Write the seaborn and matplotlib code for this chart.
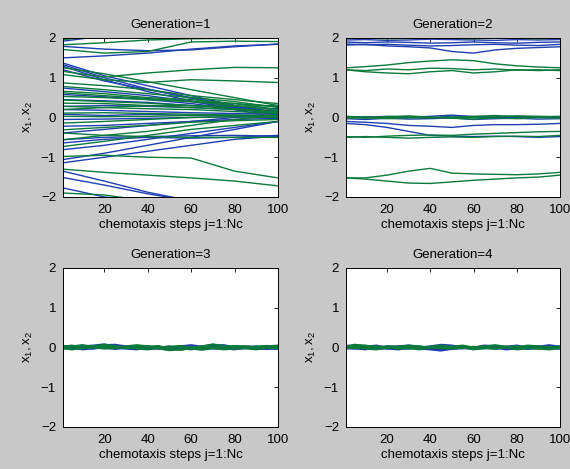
import pandas as pd
import matplotlib
matplotlib.use("Agg")
import matplotlib.pyplot as plt
import seaborn as sns

# ---- data ----
steps_g1 = [1, 20, 40, 60, 80, 100]
steps_g2 = [1, 10, 20, 30, 40, 50, 60, 70, 80, 90, 100]
steps_g34 = [1, 5, 10, 15, 20, 25, 30, 35, 40, 45, 50, 55, 60, 65, 70, 75, 80, 85, 90, 95, 100]

gen1_x1 = [
    [1.92, 2.05, 2.10, 2.10, 2.10, 2.10],
    [1.79, 1.72, 1.68, 1.70, 1.78, 1.85],
    [1.50, 1.55, 1.62, 1.72, 1.80, 1.84],
    [1.37, 1.05, 0.80, 0.55, 0.30, 0.10],
    [1.33, 1.00, 0.72, 0.48, 0.25, 0.05],
    [1.29, 0.95, 0.65, 0.42, 0.20, 0.00],
    [1.20, 0.92, 0.70, 0.50, 0.30, 0.12],
    [0.74, 0.65, 0.55, 0.40, 0.25, 0.15],
    [0.58, 0.52, 0.45, 0.35, 0.22, 0.10],
    [0.45, 0.42, 0.38, 0.30, 0.25, 0.22],
    [0.28, 0.30, 0.28, 0.25, 0.20, 0.15],
    [0.20, 0.18, 0.15, 0.12, 0.10, 0.08],
    [0.08, 0.05, 0.08, 0.05, 0.06, 0.04],
    [-0.05, -0.04, -0.02, 0.00, 0.02, 0.03],
    [-0.22, -0.20, -0.15, -0.10, -0.05, -0.02],
    [-0.39, -0.30, -0.20, -0.10, 0.00, 0.05],
    [-0.56, -0.50, -0.48, -0.46, -0.45, -0.47],
    [-0.64, -0.55, -0.50, -0.52, -0.50, -0.45],
    [-0.81, -0.70, -0.55, -0.40, -0.25, -0.10],
    [-1.06, -0.90, -0.70, -0.50, -0.30, -0.10],
    [-1.14, -1.00, -0.85, -0.70, -0.55, -0.47],
    [-1.35, -1.60, -1.88, -2.10, -2.10, -2.10],
    [-1.51, -1.70, -1.92, -2.10, -2.10, -2.10],
    [-1.77, -2.00, -2.10, -2.10, -2.10, -2.10],
]
gen1_x2 = [
    [1.96, 2.05, 2.10, 2.10, 2.10, 2.10],
    [1.83, 1.88, 1.95, 1.98, 1.99, 2.00],
    [1.71, 1.62, 1.66, 1.90, 1.92, 1.91],
    [1.25, 1.10, 0.90, 0.70, 0.50, 0.30],
    [1.16, 1.02, 1.12, 1.20, 1.26, 1.25],
    [1.08, 0.95, 0.88, 0.95, 0.92, 0.88],
    [0.87, 0.80, 0.70, 0.55, 0.45, 0.35],
    [0.78, 0.70, 0.60, 0.50, 0.40, 0.25],
    [0.66, 0.60, 0.50, 0.45, 0.35, 0.20],
    [0.62, 0.55, 0.48, 0.40, 0.30, 0.18],
    [0.53, 0.50, 0.45, 0.40, 0.35, 0.28],
    [0.44, 0.40, 0.36, 0.30, 0.22, 0.15],
    [0.36, 0.35, 0.30, 0.25, 0.20, 0.12],
    [0.28, 0.25, 0.22, 0.20, 0.15, 0.10],
    [0.20, 0.25, 0.30, 0.30, 0.28, 0.30],
    [0.11, 0.12, 0.10, 0.08, 0.06, 0.05],
    [0.03, 0.02, 0.03, 0.05, 0.05, 0.02],
    [-0.14, -0.10, -0.05, 0.00, 0.02, 0.00],
    [-0.31, -0.25, -0.20, -0.12, -0.08, -0.05],
    [-0.39, -0.45, -0.48, -0.50, -0.50, -0.50],
    [-0.56, -0.45, -0.35, -0.20, -0.05, 0.05],
    [-0.73, -0.60, -0.45, -0.30, -0.20, -0.10],
    [-0.98, -0.95, -1.00, -1.02, -1.35, -1.52],
    [-1.30, -1.38, -1.45, -1.52, -1.60, -1.72],
    [-1.90, -1.95, -2.10, -2.10, -2.10, -2.10],
]

gen2_x1 = [
    [1.95, 1.96, 1.94, 1.95, 1.97, 1.96, 1.95, 1.94, 1.96, 1.95, 1.96],
    [1.90, 1.88, 1.90, 1.89, 1.87, 1.88, 1.90, 1.88, 1.87, 1.89, 1.90],
    [1.85, 1.83, 1.84, 1.82, 1.80, 1.81, 1.83, 1.84, 1.82, 1.81, 1.84],
    [1.82, 1.84, 1.80, 1.78, 1.75, 1.66, 1.62, 1.70, 1.74, 1.76, 1.78],
    [0.02, 0.00, 0.03, 0.01, -0.02, 0.04, 0.02, 0.00, 0.03, 0.01, 0.02],
    [-0.03, -0.05, -0.02, -0.04, -0.03, -0.01, -0.05, -0.03, -0.02, -0.04, -0.03],
    [0.00, 0.02, -0.01, 0.00, 0.03, 0.06, 0.02, -0.01, 0.00, 0.02, 0.00],
    [-0.10, -0.12, -0.15, -0.20, -0.22, -0.25, -0.20, -0.18, -0.18, -0.17, -0.15],
    [-0.15, -0.18, -0.25, -0.35, -0.45, -0.47, -0.48, -0.47, -0.48, -0.50, -0.48],
]
gen2_x2 = [
    [1.99, 2.00, 1.98, 1.99, 2.00, 1.99, 1.98, 2.00, 1.99, 1.98, 2.00],
    [1.25, 1.28, 1.32, 1.38, 1.42, 1.45, 1.43, 1.35, 1.30, 1.27, 1.25],
    [1.20, 1.18, 1.22, 1.20, 1.24, 1.23, 1.20, 1.22, 1.19, 1.20, 1.18],
    [1.20, 1.15, 1.12, 1.10, 1.15, 1.18, 1.12, 1.15, 1.20, 1.18, 1.20],
    [0.03, 0.01, 0.02, 0.04, 0.01, 0.00, 0.03, 0.05, 0.02, 0.01, 0.03],
    [-0.02, 0.00, -0.03, -0.01, 0.00, -0.02, -0.04, -0.01, -0.03, 0.00, -0.02],
    [0.01, -0.02, 0.00, 0.02, -0.01, 0.01, 0.00, 0.02, 0.04, 0.03, 0.02],
    [-0.48, -0.50, -0.47, -0.45, -0.44, -0.45, -0.42, -0.40, -0.38, -0.36, -0.35],
    [-0.50, -0.48, -0.50, -0.52, -0.50, -0.49, -0.50, -0.48, -0.47, -0.48, -0.45],
    [-1.52, -1.52, -1.45, -1.35, -1.28, -1.40, -1.42, -1.43, -1.44, -1.42, -1.38],
    [-1.52, -1.55, -1.60, -1.65, -1.66, -1.62, -1.58, -1.55, -1.52, -1.50, -1.45],
]

gen3_x1 = [
    [0.03, 0.01, 0.05, 0.00, 0.06, 0.07, 0.03, 0.01, -0.02, 0.00, 0.03, -0.03, 0.01, 0.00, 0.05, 0.06, 0.01, 0.00, -0.02, 0.01, 0.00],
    [-0.03, 0.00, -0.05, -0.02, 0.03, 0.00, -0.03, -0.05, 0.00, -0.03, -0.06, -0.02, -0.05, 0.00, -0.03, -0.02, -0.05, 0.00, -0.03, -0.02, -0.04],
    [0.00, -0.02, 0.03, 0.05, 0.08, 0.03, 0.00, 0.02, 0.03, -0.02, 0.00, 0.03, 0.06, 0.02, 0.07, 0.03, 0.00, 0.03, 0.02, -0.02, 0.02],
    [-0.01, -0.04, -0.02, -0.03, 0.00, -0.04, -0.01, -0.03, -0.04, -0.02, -0.03, -0.05, -0.02, -0.04, -0.01, -0.03, -0.04, -0.02, -0.03, -0.04, -0.02],
]
gen3_x2 = [
    [0.02, 0.05, 0.00, 0.03, 0.07, 0.04, 0.00, 0.03, 0.02, 0.04, -0.03, -0.06, -0.02, 0.03, 0.08, 0.04, 0.02, 0.00, 0.03, 0.04, 0.02],
    [-0.02, -0.05, -0.02, 0.00, -0.03, -0.02, 0.02, -0.03, -0.05, -0.02, -0.07, -0.05, -0.03, -0.06, -0.02, -0.05, -0.03, -0.02, -0.05, 0.00, -0.03],
    [0.04, 0.03, 0.06, 0.02, 0.04, 0.00, 0.03, 0.06, 0.03, 0.00, 0.02, 0.04, 0.00, 0.03, 0.02, 0.00, 0.04, 0.03, 0.00, 0.03, 0.05],
    [0.00, 0.02, -0.02, 0.01, -0.01, 0.02, -0.02, 0.00, 0.01, -0.02, 0.00, 0.02, -0.03, -0.01, 0.01, -0.02, 0.01, -0.01, 0.02, -0.01, 0.00],
]

gen4_x1 = [
    [0.02, 0.05, 0.00, -0.02, 0.03, 0.02, 0.00, -0.03, -0.05, -0.08, -0.03, 0.02, 0.00, 0.03, 0.02, -0.02, 0.00, 0.03, 0.02, 0.06, 0.02],
    [-0.03, -0.02, -0.05, 0.00, -0.03, -0.05, -0.02, 0.00, 0.03, 0.07, 0.05, 0.00, -0.03, -0.02, 0.00, -0.05, -0.03, 0.00, -0.02, -0.03, -0.02],
    [0.05, 0.03, 0.02, 0.05, 0.00, 0.03, 0.05, 0.02, 0.00, -0.03, 0.02, 0.03, 0.00, 0.05, 0.03, 0.02, 0.05, 0.00, 0.03, 0.02, 0.03],
    [-0.01, -0.03, -0.02, -0.04, -0.02, 0.00, -0.03, -0.01, -0.04, -0.06, -0.04, -0.02, -0.03, 0.00, -0.03, -0.02, -0.01, -0.04, -0.02, 0.00, -0.03],
]
gen4_x2 = [
    [0.03, 0.07, 0.05, 0.00, 0.03, 0.02, 0.05, 0.03, 0.00, 0.03, 0.02, 0.05, 0.00, 0.03, 0.06, 0.02, 0.00, 0.05, 0.03, 0.00, 0.03],
    [-0.02, 0.00, -0.03, -0.05, 0.00, -0.03, -0.02, -0.05, 0.00, -0.02, -0.03, 0.00, -0.05, -0.02, -0.03, 0.00, -0.05, -0.02, -0.03, -0.05, -0.02],
    [0.00, 0.03, 0.02, 0.03, -0.02, 0.00, 0.03, 0.00, 0.02, 0.05, 0.00, -0.02, 0.02, 0.00, -0.03, 0.02, 0.03, -0.02, 0.00, 0.02, 0.00],
    [0.01, -0.02, 0.00, 0.02, 0.01, -0.02, 0.00, 0.02, -0.01, 0.00, 0.02, 0.00, -0.02, 0.01, 0.00, 0.02, -0.01, 0.01, -0.02, 0.01, 0.01],
]

generations = [
    ("Generation=1", steps_g1, gen1_x1, gen1_x2),
    ("Generation=2", steps_g2, gen2_x1, gen2_x2),
    ("Generation=3", steps_g34, gen3_x1, gen3_x2),
    ("Generation=4", steps_g34, gen4_x1, gen4_x2),
]

BLUE = "#1f3fb0"
GREEN = "#0b7a3b"


def to_long(steps, x1_lines, x2_lines):
    rows = []
    for dim, lines in (("x1", x1_lines), ("x2", x2_lines)):
        for i, line in enumerate(lines):
            for s, v in zip(steps, line):
                rows.append({"step": s, "value": v, "dim": dim, "line": f"{dim}_{i}"})
    return pd.DataFrame(rows)


sns.set_style("white")
plt.rcParams["font.family"] = ["Liberation Sans", "DejaVu Sans"]
plt.rcParams["mathtext.default"] = "regular"
for key in ["text.color", "axes.labelcolor", "xtick.color", "ytick.color"]:
    plt.rcParams[key] = "black"

fig = plt.figure(figsize=(5.70, 4.69), dpi=100, facecolor="#c8c8c8")
rects = [
    [0.1105, 0.580, 0.3772, 0.339],
    [0.6070, 0.580, 0.3755, 0.339],
    [0.1105, 0.0896, 0.3772, 0.339],
    [0.6070, 0.0896, 0.3755, 0.339],
]

for k, (rect, (title, steps, x1_lines, x2_lines)) in enumerate(zip(rects, generations)):
    ax = fig.add_axes(rect)
    df = to_long(steps, x1_lines, x2_lines)
    lw = 1.0 if k < 2 else 1.4
    sns.lineplot(data=df, x="step", y="value", hue="dim", units="line",
                 estimator=None, sort=False, palette={"x1": BLUE, "x2": GREEN},
                 linewidth=lw, legend=False, ax=ax)
    ax.set_xlim(1, 100)
    ax.set_ylim(-2, 2)
    ax.set_xticks([20, 40, 60, 80, 100])
    ax.set_yticks([-2, -1, 0, 1, 2])
    ax.tick_params(direction="in", top=True, right=True, length=3, width=0.6,
                   labelsize=9.5, pad=5)
    for sp in ax.spines.values():
        sp.set_color("black")
        sp.set_linewidth(0.7)
    ax.set_facecolor("white")
    ax.set_title(title, fontsize=9.5, pad=7)
    ax.set_xlabel("chemotaxis steps j=1:Nc", fontsize=9.5, labelpad=2)
    ax.set_ylabel("$x_1, x_2$", fontsize=9.5, labelpad=4)

fig.savefig("out.png", dpi=100, facecolor=fig.get_facecolor())
